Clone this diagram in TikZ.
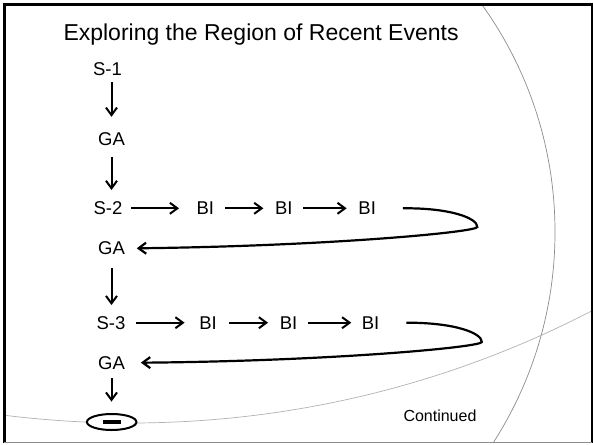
\documentclass[tikz,border=0pt]{standalone}
\usepackage{fontspec}
\setmainfont{Liberation Sans}
\usetikzlibrary{arrows.meta,shapes.geometric}
\begin{document}
\begin{tikzpicture}[x=1pt,y=-1pt,
  lbl/.style={inner sep=0pt, outer sep=0pt, font=\fontsize{18.5}{22}\selectfont, text height=13.25pt, text depth=0pt, anchor=center},
  arr/.style={line width=2pt, -{Straight Barb[length=7.5pt,width=11pt]}},
  loopline/.style={line width=2.2pt, -{Straight Barb[length=7.5pt,width=11pt]}},
  decoarc/.style={line width=0.7pt, draw=black!45},
  decoarcb/.style={line width=0.7pt, draw=black!30}]
\useasboundingbox (0,0) rectangle (593,444);
\fill[white] (0,0) rectangle (593,444);
% background arcs
\begin{scope}
  \clip (4,4) rectangle (591,442.5);
  \draw[decoarc] (165,232) circle[radius=390pt];
  \draw[decoarcb] (130,-581.8) circle[radius=1004.8pt];
\end{scope}
% frame
\draw[line width=3pt] (4.2,443) -- (4.2,2.7);
\draw[line width=3pt] (2.7,4.2) -- (592.7,4.2);
\draw[line width=2pt] (591.7,2.7) -- (591.7,443);
\draw[line width=0.8pt, draw=black!45] (4,442.7) -- (592,442.7);
% texts
\node[anchor=base west, inner sep=0pt, font=\fontsize{23}{28}\selectfont] (title) at (63.3,40.3) {Exploring the Region of Recent Events};
\node[anchor=base west, inner sep=0pt, font=\fontsize{16}{19}\selectfont] (cont) at (403.3,421) {Continued};
% column
\node[lbl] (s1) at (107.5,69) {S-1};
\node[lbl] (ga1) at (111.5,138.4) {GA};
\node[lbl] (s2) at (108,208.3) {S-2};
\node[lbl] (b21) at (205.3,208.3) {BI};
\node[lbl] (b22) at (283.8,208.3) {BI};
\node[lbl] (b23) at (367.2,208.3) {BI};
\node[lbl] (ga2) at (111.5,248.3) {GA};
\node[lbl] (s3) at (111,322.7) {S-3};
\node[lbl] (b31) at (208,322.7) {BI};
\node[lbl] (b32) at (288.5,322.7) {BI};
\node[lbl] (b33) at (370.6,322.7) {BI};
\node[lbl] (ga3) at (111.5,362.7) {GA};
\node[ellipse, draw, line width=2pt, fill=white, inner sep=0pt, outer sep=0pt, minimum width=49.5pt, minimum height=16pt] (stop) at (111.7,422) {\rule[-1.6pt]{18pt}{3.2pt}};
% vertical arrows
\draw[arr, shorten <=6.3pt, shorten >=15pt] (s1.south -| ga1.north) -- (ga1.north);
\draw[arr, shorten <=11.7pt, shorten >=11.7pt] (ga1.south) -- (s2.north -| ga1.south);
\draw[arr, shorten <=13.3pt, shorten >=11pt] (ga2.south) -- (s3.north -| ga2.south);
\draw[arr, shorten <=8.7pt, shorten >=12.4pt] (ga3.south) -- (stop.north -| ga3.south);
% horizontal arrows row 2
\draw[arr] ([xshift=9pt]s2.east) -- ([xshift=-17.5pt]b21.west);
\draw[arr] ([xshift=11pt]b21.east) -- ([xshift=-11.7pt]b22.west);
\draw[arr] ([xshift=10.8pt]b22.east) -- ([xshift=-11.8pt]b23.west);
% horizontal arrows row 3
\draw[arr] ([xshift=10.5pt]s3.east) -- ([xshift=-14.7pt]b31.west);
\draw[arr] ([xshift=12.5pt]b31.east) -- ([xshift=-11.7pt]b32.west);
\draw[arr] ([xshift=11.2pt]b32.east) -- ([xshift=-10.6pt]b33.west);
% return loops
\draw[loopline] ([xshift=27pt]b23.east) .. controls (450,207.8) and (477.5,218) .. (477.3,227)
  .. controls (477,232) and (330,246) .. ([xshift=11.9pt]ga2.east);
\draw[loopline] ([xshift=27pt]b33.east) .. controls (454.5,322.5) and (482,333) .. (481.8,342)
  .. controls (481.5,347) and (334.5,361) .. ([xshift=16pt]ga3.east);
\end{tikzpicture}
\end{document}
